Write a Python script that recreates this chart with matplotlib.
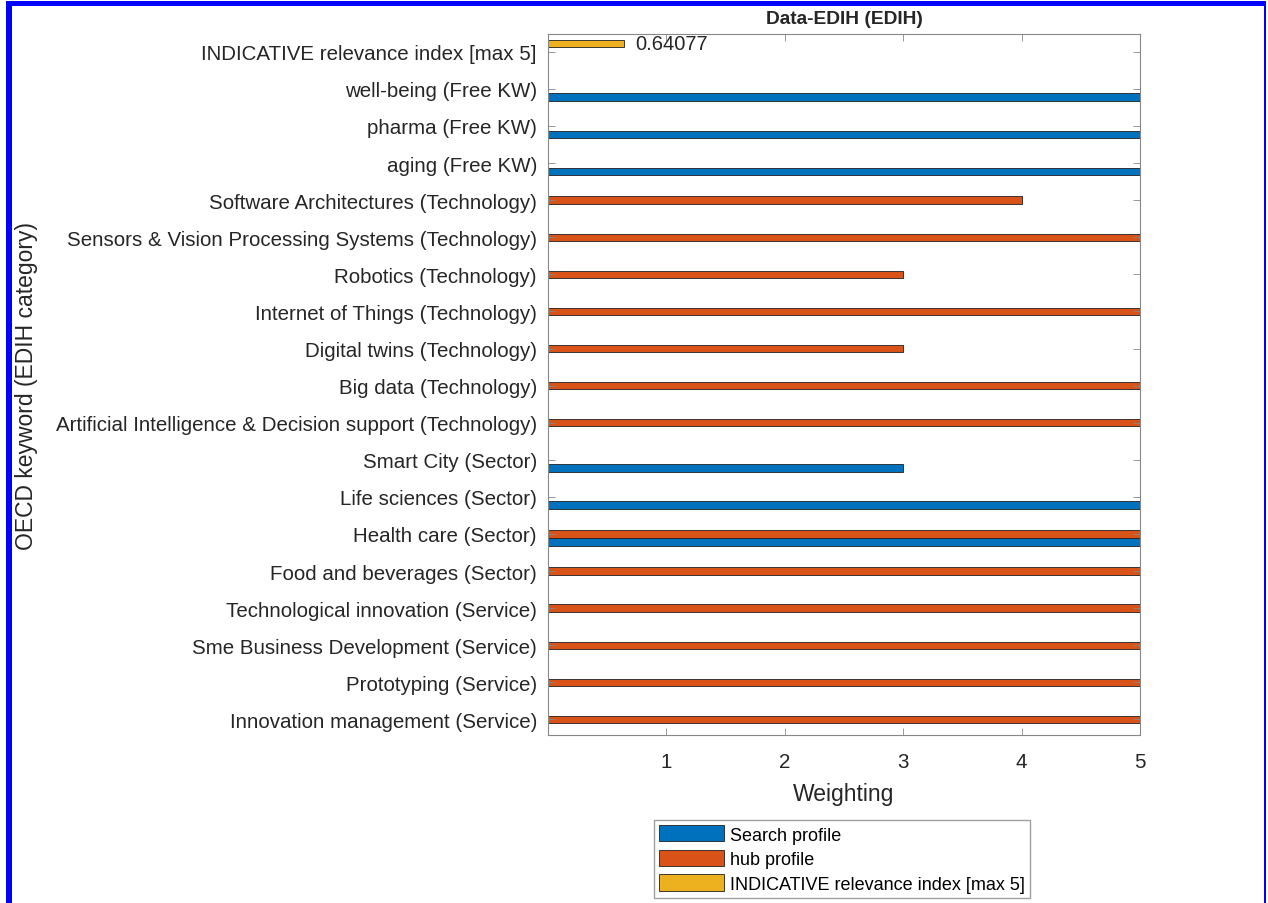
import numpy as np
import matplotlib
matplotlib.use("Agg")
import matplotlib.pyplot as plt
from matplotlib.patches import Rectangle

plt.rcParams['font.family'] = ['Liberation Sans', 'DejaVu Sans']

# categories, bottom to top
categories = [
    "Innovation management (Service)",
    "Prototyping (Service)",
    "Sme Business Development (Service)",
    "Technological innovation (Service)",
    "Food and beverages (Sector)",
    "Health care (Sector)",
    "Life sciences (Sector)",
    "Smart City (Sector)",
    "Artificial Intelligence & Decision support (Technology)",
    "Big data (Technology)",
    "Digital twins (Technology)",
    "Internet of Things (Technology)",
    "Robotics (Technology)",
    "Sensors & Vision Processing Systems (Technology)",
    "Software Architectures (Technology)",
    "aging (Free KW)",
    "pharma (Free KW)",
    "well-being (Free KW)",
    "INDICATIVE relevance index [max 5]",
]
search_profile = [0, 0, 0, 0, 0, 5, 5, 3, 0, 0, 0, 0, 0, 0, 0, 5, 5, 5, 0]
hub_profile = [5, 5, 5, 5, 5, 5, 0, 0, 5, 5, 3, 5, 3, 5, 4, 0, 0, 0, 0]
relevance = [0, 0, 0, 0, 0, 0, 0, 0, 0, 0, 0, 0, 0, 0, 0, 0, 0, 0, 0.64077]
series_names = ["Search profile", "hub profile", "INDICATIVE relevance index [max 5]"]
colors = ["#0072BD", "#D95319", "#EDB120"]

fig = plt.figure(figsize=(12.68, 9.04), dpi=100)
ax = fig.add_axes([548/1268, 1-736/904, (1140-548)/1268, (736-35)/904])

y = np.arange(1, len(categories) + 1)
step = 0.222
h = 0.2
for k, vals in enumerate([search_profile, hub_profile, relevance]):
    ax.barh(y + (k - 1) * step, vals, height=h, color=colors[k],
            edgecolor="#202020", linewidth=0.6, label=series_names[k])

ax.text(relevance[-1] + 0.1, y[-1] + step, "%.5g" % relevance[-1],
        va="center", ha="left", fontsize=14.5, color="#262626")

ax.set_xlim(0, 5)
ax.set_ylim(0.58, 19.48)
ax.set_xticks([1, 2, 3, 4, 5])
ax.set_yticks(y)
ax.set_yticklabels(categories)
ax.tick_params(direction="in", length=5, width=0.6, colors="#888888",
               labelcolor="#262626", labelsize=14.8, top=True, right=True)
ax.tick_params(axis="x", pad=12)
ax.tick_params(axis="y", pad=8)
for s in ax.spines.values():
    s.set_color("#888888")
    s.set_linewidth(0.8)

ax.set_title("Data-EDIH (EDIH)", fontsize=13.8, fontweight="bold", color="#262626", pad=8)
ax.set_xlabel("Weighting", fontsize=16.5, color="#262626", labelpad=8)
fig.text(27/1268, 1-386/904, "OECD keyword (EDIH category)", rotation=90,
         ha="center", va="center", fontsize=16.5, color="#262626")

fig.legend(loc="center", bbox_to_anchor=(842/1268, 1-860/904), fontsize=13,
           frameon=True, fancybox=False, edgecolor="#888888",
           handlelength=3.6, handleheight=1.0, handletextpad=0.3,
           labelspacing=0.35, borderpad=0.3)

# blue frame around the figure
frame = dict(transform=fig.transFigure, facecolor="#0000FF", linewidth=0, zorder=10)
fig.patches.append(Rectangle((6/1268, 0), 6/1268, 1 - 2/904, **frame))
fig.patches.append(Rectangle((6/1268, 1 - 7/904), (1266-6)/1268, 5/904, **frame))
fig.patches.append(Rectangle((1264/1268, 0), 2/1268, 1 - 2/904, **frame))

fig.savefig("out.png", dpi=100)
